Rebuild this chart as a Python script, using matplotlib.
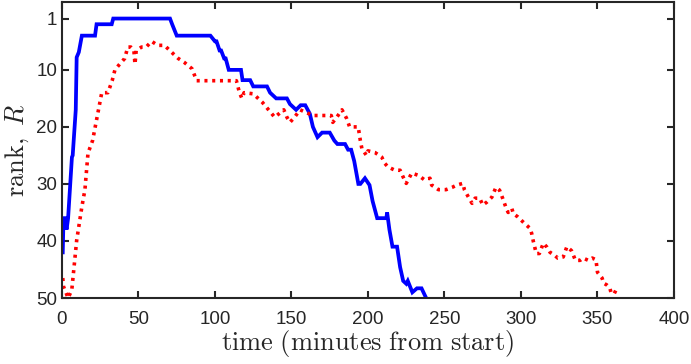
import matplotlib
matplotlib.use("Agg")
import matplotlib.pyplot as plt

plt.rcParams['mathtext.fontset'] = 'cm'

# Blue (solid) series: time (min) and rank
blue_t = [0.5, 1, 2, 3, 4, 6.5, 7, 9, 9.6, 11, 13, 21.6, 22.6, 32.5, 33.5, 70.6, 72, 75,
          97, 100, 101, 103, 104, 106, 107, 109, 117, 118, 123, 125, 134, 136, 138, 140, 147, 149, 153, 156,
          159, 162, 164, 167, 170, 175, 178, 180, 185, 187, 189, 191, 193.7, 195, 198,
          201, 203, 206, 212, 212.5, 214, 216, 219, 221, 223, 225, 226, 229, 232, 235, 238]
blue_r = [42, 36, 36, 38, 36, 25.3, 25, 17, 7.8, 6.9, 4, 4, 2, 2, 1, 1, 2, 4,
          4, 5, 5, 6.6, 6.6, 8, 8, 10, 10, 11.8, 11.8, 12.9, 12.9, 14, 14.5, 15, 15, 16, 17, 16.2,
          16.2, 17.7, 20, 21.8, 21, 21, 22.4, 23, 23, 24, 24, 26, 30, 30, 29,
          30.2, 33, 36, 36, 35, 38, 41, 41, 44.6, 47, 47.5, 47, 49, 48.3, 48.3, 50]

# Red (dotted) series
red_t = [0.5, 1, 4, 6.4, 9.6, 13, 15, 17, 20, 23.5, 26, 30, 32.8, 34.6, 38, 41, 43, 45,
         47, 47.7, 48.5, 52, 55, 58.6, 62.6, 67, 71.6, 76, 80, 85, 88, 114, 116, 117.6,
         119, 125, 131, 135, 139, 145, 147, 149, 152, 155.6, 164, 176, 177, 179.6, 183,
         186, 188, 193.6, 195, 196, 199, 200, 204.6, 209, 211, 213, 217.6, 221, 223, 225,
         228.6, 233, 237, 240.5, 241.6, 246, 251, 255, 258, 262, 263, 265, 268, 270, 273,
         275, 277.6, 281, 283.6, 286, 288, 290, 291.6, 294, 295, 298, 302.6, 306, 307,
         308, 310, 312, 314.6, 317, 319, 322, 324, 327.6, 330, 333, 335.6, 338.6, 340.6,
         344, 346.6, 349, 350, 353, 354, 356, 358, 359, 361, 362.6, 364]
red_r = [46.5, 48, 50, 48.6, 39.9, 34, 31, 24.6, 22.4, 17.5, 14, 14, 11.9, 10, 8.9, 8, 6, 6,
         6.6, 9, 6.6, 6, 6, 5, 5.7, 5.7, 6.9, 8, 8.7, 9.8, 11.9, 11.9, 14, 15,
         14, 14.2, 15.7, 17, 18.3, 17, 18.3, 19.2, 18.3, 17, 18, 18, 19.2, 18.3, 17,
         18.5, 20, 20, 22.4, 23.8, 25, 24.2, 24.5, 25.3, 26.4, 27, 27.6, 27.6, 28.8, 29.9,
         28.1, 28.5, 29.3, 29, 30.2, 31, 31, 30.6, 30.2, 29.9, 31, 32, 33.4, 32.5, 32.5,
         33.7, 33.2, 32.3, 30.6, 31.1, 32.5, 34, 35, 34.3, 35.2, 35.8, 37, 37.8, 38.7,
         40, 42.2, 42.2, 40.4, 41.1, 42, 42.5, 43, 42.8, 41, 41.7, 43.4, 43.4, 43,
         43.4, 43, 43.3, 45.5, 46.5, 47.4, 47.7, 48.2, 49.2, 49.2, 48.3, 48.3]

x_ticks = [0, 50, 100, 150, 200, 250, 300, 350, 400]
y_ticks = [1, 10, 20, 30, 40, 50]

fig = plt.figure(figsize=(6.91, 3.64), dpi=100)
ax = fig.add_axes([0.0897, 0.1813, 0.9754 - 0.0897, 0.9945 - 0.1813])

ax.plot(blue_t, blue_r, color='#0000ff', lw=2.7, solid_joinstyle='miter')
ax.plot(red_t, red_r, color='#ff0000', lw=2.6, linestyle=(0, (0.85, 1.3)))

ax.set_xlim(0, 400)
ax.set_ylim(50, -1.9)
ax.set_xticks(x_ticks)
ax.set_yticks(y_ticks)

tick_color = '#262626'
for s in ax.spines.values():
    s.set_color(tick_color)
    s.set_linewidth(1.5)
ax.tick_params(direction='in', top=True, right=True, length=5, width=1.5,
               color=tick_color, labelcolor=tick_color, labelsize=13.5)
ax.tick_params(axis='x', pad=9.5)
ax.tick_params(axis='y', pad=3.5)
for lab in ax.get_xticklabels() + ax.get_yticklabels():
    lab.set_family('Liberation Sans')

ax.set_xlabel(r'$\mathrm{time\ (minutes\ from\ start)}$', fontsize=19, color=tick_color, labelpad=0)
ax.set_ylabel(r'$\mathrm{rank},\ R$', fontsize=19, color=tick_color, labelpad=4)

fig.savefig('out.png', dpi=100)
